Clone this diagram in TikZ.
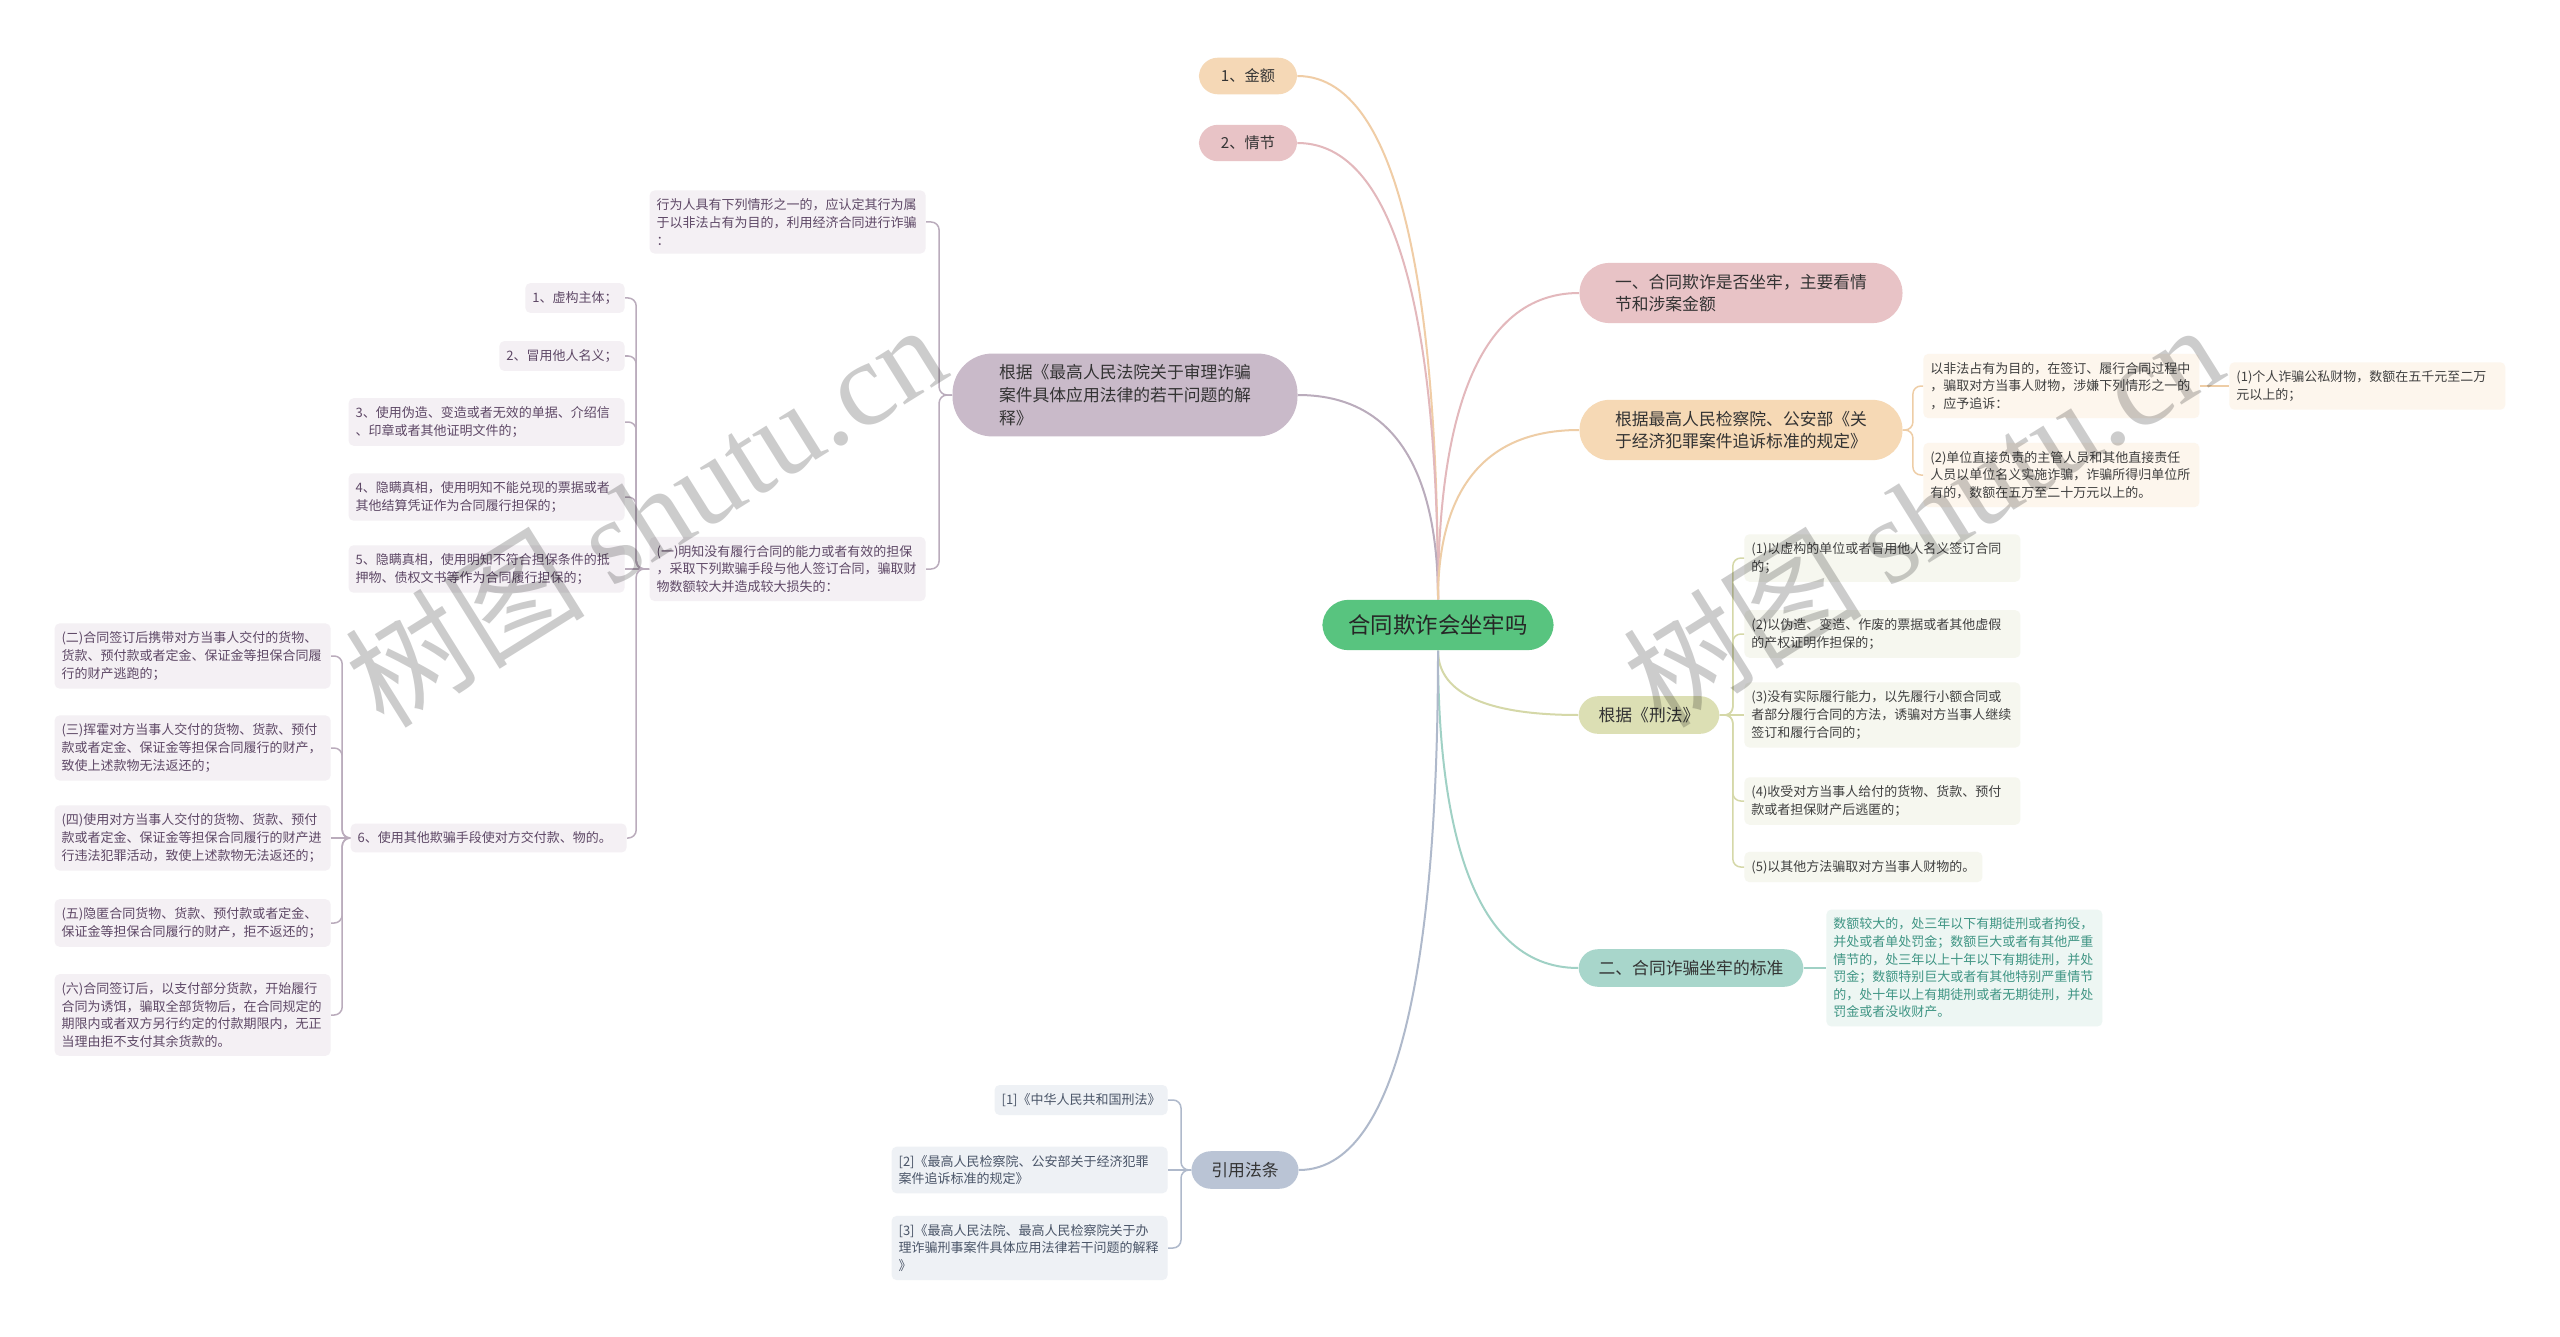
\documentclass[tikz,border=0pt]{standalone}
\usepackage{fontspec}
\setmainfont{Noto Sans CJK SC}
\newfontfamily\wmlatin{Liberation Serif}
\usetikzlibrary{calc}

\definecolor{ctrgreen}{HTML}{58C47F}
\definecolor{amtfill}{HTML}{F5D8B6}
\definecolor{amtline}{HTML}{F0CDA6}
\definecolor{pinkfill}{HTML}{E8C3C6}
\definecolor{pinkline}{HTML}{E3B8BC}
\definecolor{peachfill}{HTML}{F6D9B5}
\definecolor{peachline}{HTML}{EECDA6}
\definecolor{peachleaf}{HTML}{FDF6ED}
\definecolor{olivefill}{HTML}{DCDFB4}
\definecolor{oliveline}{HTML}{D5D8A8}
\definecolor{oliveleaf}{HTML}{F6F7EF}
\definecolor{tealfill}{HTML}{A8D6CB}
\definecolor{tealline}{HTML}{A0D1C5}
\definecolor{tealleaf}{HTML}{EDF6F3}
\definecolor{tealtext}{HTML}{3F9584}
\definecolor{bluefill}{HTML}{BAC4D5}
\definecolor{blueline}{HTML}{AFB9CB}
\definecolor{blueleaf}{HTML}{EEF1F5}
\definecolor{bluetext}{HTML}{4A5568}
\definecolor{mauvefill}{HTML}{C9BAC9}
\definecolor{mauveline}{HTML}{BAACBC}
\definecolor{mauveleaf}{HTML}{F4F0F4}
\definecolor{mauvetext}{HTML}{5E4866}

\tikzset{
  topicbox/.style={fill=ctrgreen, text=black!85, rounded corners=13pt,
    inner xsep=13pt, inner ysep=7.4pt, font=\fontsize{11.2}{13}\selectfont},
  tagbox/.style={text=black!80, rounded corners=9.4pt, inner xsep=11pt,
    inner ysep=5.6pt, font=\fontsize{7.6}{9}\selectfont},
  branchbox/.style={align=left, text=black!80, rounded corners=9.7pt,
    inner xsep=10pt, inner ysep=5.5pt, font=\fontsize{8.4}{11.3}\selectfont},
  leafbox/.style={align=left, rounded corners=2.5pt, inner xsep=3.5pt,
    inner ysep=4.2pt, font=\fontsize{6.5}{8.8}\selectfont},
  leafwide/.style={leafbox, text width=131pt},
  courtleaf/.style={fill=mauveleaf, text=mauvetext, anchor=east},
  proculeaf/.style={fill=peachleaf, text=black!75, anchor=west},
  xingfaleaf/.style={fill=oliveleaf, text=black!75, anchor=west},
  stdleaf/.style={fill=tealleaf, text=tealtext, anchor=west},
  refleaf/.style={fill=blueleaf, text=bluetext, anchor=east},
  linkline/.style={line width=1pt},
  subline/.style={line width=0.75pt, rounded corners=4pt},
  wmtext/.style={text=black, text opacity=0.2, rotate=32,
    font=\fontsize{60}{60}\selectfont}
}
\newcommand\linkcurve[3]{\draw[linkline,#1] (#2) .. controls ($(#2)!0.5!(#2|-#3)$) and ($(#3)!0.8!(#2|-#3)$) .. (#3);}

\begin{document}
\begin{tikzpicture}[x=0.5pt, y=-0.5pt]
\fill[white] (0,0) rectangle (2560,1337);
\useasboundingbox (0,0) rectangle (2560,1337);

\node[topicbox] (ctr) at (1438,625) {合同欺诈会坐牢吗};

\node[tagbox, fill=amtfill] (amt) at (1248,76) {1、金额};
\node[tagbox, fill=pinkfill] (plot) at (1248,143) {2、情节};
\node[branchbox, fill=mauvefill, minimum width=172.5pt, rounded corners=20pt] (court) at (1125,395) {根据《最高人民法院关于审理诈骗\\案件具体应用法律的若干问题的解\\释》};
\node[branchbox, fill=pinkfill, minimum width=161.5pt, rounded corners=15pt] (jail) at (1741,293) {一、合同欺诈是否坐牢，主要看情\\节和涉案金额};
\node[branchbox, fill=peachfill, minimum width=161.5pt, rounded corners=15pt] (procu) at (1741,430) {根据最高人民检察院、公安部《关\\于经济犯罪案件追诉标准的规定》};
\node[branchbox, fill=olivefill] (xingfa) at (1649,715) {根据《刑法》};
\node[branchbox, fill=tealfill] (std) at (1691,968) {二、合同诈骗坐牢的标准};
\node[branchbox, fill=bluefill] (refs) at (1245,1170) {引用法条};

% court side
\node[leafwide, courtleaf] (rule) at (926,222) {行为人具有下列情形之一的，应认定其行为属\\于以非法占有为目的，利用经济合同进行诈骗\\：};
\node[leafwide, courtleaf] (fraud) at (926,569) {(一)明知没有履行合同的能力或者有效的担保\\，采取下列欺骗手段与他人签订合同，骗取财\\物数额较大并造成较大损失的：};
\node[leafbox, courtleaf] (i1) at (625,298) {1、虚构主体；};
\node[leafbox, courtleaf] (i2) at (625,356) {2、冒用他人名义；};
\node[leafwide, courtleaf] (i3) at (625,422) {3、使用伪造、变造或者无效的单据、介绍信\\、印章或者其他证明文件的；};
\node[leafwide, courtleaf] (i4) at (625,497) {4、隐瞒真相，使用明知不能兑现的票据或者\\其他结算凭证作为合同履行担保的；};
\node[leafwide, courtleaf] (i5) at (625,569) {5、隐瞒真相，使用明知不符合担保条件的抵\\押物、债权文书等作为合同履行担保的；};
\node[leafwide, courtleaf] (i6) at (627,838) {6、使用其他欺骗手段使对方交付款、物的。};
\node[leafwide, courtleaf] (j2) at (331,656) {(二)合同签订后携带对方当事人交付的货物、\\货款、预付款或者定金、保证金等担保合同履\\行的财产逃跑的；};
\node[leafwide, courtleaf] (j3) at (331,748) {(三)挥霍对方当事人交付的货物、货款、预付\\款或者定金、保证金等担保合同履行的财产，\\致使上述款物无法返还的；};
\node[leafwide, courtleaf] (j4) at (331,838) {(四)使用对方当事人交付的货物、货款、预付\\款或者定金、保证金等担保合同履行的财产进\\行违法犯罪活动，致使上述款物无法返还的；};
\node[leafwide, courtleaf] (j5) at (331,923) {(五)隐匿合同货物、货款、预付款或者定金、\\保证金等担保合同履行的财产，拒不返还的；};
\node[leafwide, courtleaf] (j6) at (331,1015) {(六)合同签订后，以支付部分货款，开始履行\\合同为诱饵，骗取全部货物后，在合同规定的\\期限内或者双方另行约定的付款期限内，无正\\当理由拒不支付其余货款的。};

% right side
\node[leafwide, proculeaf] (a) at (1923,386) {以非法占有为目的，在签订、履行合同过程中\\，骗取对方当事人财物，涉嫌下列情形之一的\\，应予追诉：};
\node[leafwide, proculeaf] (g) at (2229,386) {(1)个人诈骗公私财物，数额在五千元至二万\\元以上的；};
\node[leafwide, proculeaf] (b) at (1923,475) {(2)单位直接负责的主管人员和其他直接责任\\人员以单位名义实施诈骗，诈骗所得归单位所\\有的，数额在五万至二十万元以上的。};
\node[leafwide, xingfaleaf] (c1) at (1744,558) {(1)以虚构的单位或者冒用他人名义签订合同\\的；};
\node[leafwide, xingfaleaf] (c2) at (1744,634) {(2)以伪造、变造、作废的票据或者其他虚假\\的产权证明作担保的；};
\node[leafwide, xingfaleaf] (c3) at (1744,715) {(3)没有实际履行能力，以先履行小额合同或\\者部分履行合同的方法，诱骗对方当事人继续\\签订和履行合同的；};
\node[leafwide, xingfaleaf] (c4) at (1744,801) {(4)收受对方当事人给付的货物、货款、预付\\款或者担保财产后逃匿的；};
\node[leafbox, xingfaleaf] (c5) at (1744,867) {(5)以其他方法骗取对方当事人财物的。};
\node[leafwide, stdleaf] (t) at (1826,968) {数额较大的，处三年以下有期徒刑或者拘役，\\并处或者单处罚金；数额巨大或者有其他严重\\情节的，处三年以上十年以下有期徒刑，并处\\罚金；数额特别巨大或者有其他特别严重情节\\的，处十年以上有期徒刑或者无期徒刑，并处\\罚金或者没收财产。};

% references
\node[leafbox, refleaf] (f1) at (1168,1100) {[1]《中华人民共和国刑法》};
\node[leafwide, refleaf] (f2) at (1168,1170) {[2]《最高人民检察院、公安部关于经济犯罪\\案件追诉标准的规定》};
\node[leafwide, refleaf] (f3) at (1168,1248) {[3]《最高人民法院、最高人民检察院关于办\\理诈骗刑事案件具体应用法律若干问题的解释\\》};

\linkcurve{amtline}{ctr.north}{amt.east}
\linkcurve{pinkline}{ctr.north}{plot.east}
\linkcurve{mauveline}{ctr.north}{court.east}
\linkcurve{pinkline}{ctr.north}{jail.west}
\linkcurve{peachline}{ctr.north}{procu.west}
\linkcurve{oliveline}{ctr.south}{xingfa.west}
\linkcurve{tealline}{ctr.south}{std.west}
\linkcurve{blueline}{ctr.south}{refs.east}

\coordinate (court-j) at ($(court.west)+(-13,0)$);
\foreach \n in {rule,fraud}
  \draw[subline, mauveline] (court.west) -- (court-j) |- (\n.east);
\coordinate (fraud-j) at ($(fraud.west)+(-13,0)$);
\foreach \n in {i1,i2,i3,i4,i6}
  \draw[subline, mauveline] (fraud.west) -- (fraud-j) |- (\n.east);
\draw[subline, mauveline] (fraud.west) -- (i5.east);
\coordinate (i6-j) at ($(i6.west)+(-8,0)$);
\foreach \n in {j2,j3,j5,j6}
  \draw[subline, mauveline] (i6.west) -- (i6-j) |- (\n.east);
\draw[subline, mauveline] (i6.west) -- (j4.east);

\coordinate (procu-j) at ($(procu.east)+(10,0)$);
\foreach \n in {a,b}
  \draw[subline, peachline] (procu.east) -- (procu-j) |- (\n.west);
\draw[subline, peachline] (a.east) -- (g.west);
\coordinate (xingfa-j) at ($(xingfa.east)+(13,0)$);
\foreach \n in {c1,c2,c4,c5}
  \draw[subline, oliveline] (xingfa.east) -- (xingfa-j) |- (\n.west);
\draw[subline, oliveline] (xingfa.east) -- (c3.west);
\draw[subline, tealline] (std.east) -- (t.west);
\coordinate (refs-j) at ($(refs.west)+(-10,0)$);
\foreach \n in {f1,f3}
  \draw[subline, blueline] (refs.west) -- (refs-j) |- (\n.east);
\draw[subline, blueline] (refs.west) -- (f2.east);

\node[wmtext] at (645,514) {树图 {\wmlatin shutu.cn}};
\node[wmtext] at (1922,514) {树图 {\wmlatin shutu.cn}};
\end{tikzpicture}
\end{document}
